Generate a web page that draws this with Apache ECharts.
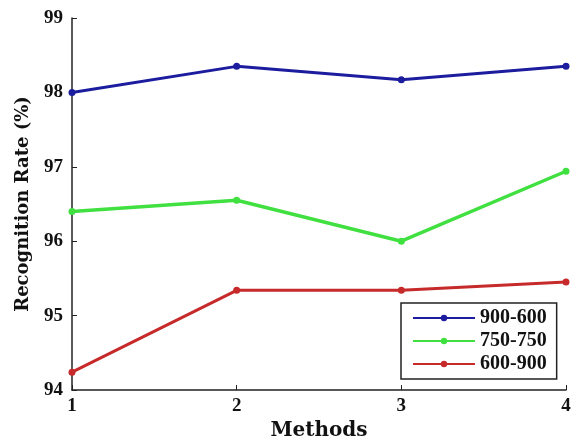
<!DOCTYPE html>
<html>
<head>
<meta charset="utf-8">
<script src="https://cdn.jsdelivr.net/npm/echarts@6/dist/echarts.min.js"></script>
<style>
  html, body { margin: 0; padding: 0; background: #fff; }
  #chart { width: 585px; height: 441px; }
</style>
</head>
<body>
<div id="chart"></div>
<script>
const methods = [1, 2, 3, 4];
const seriesNames = ["900-600", "750-750", "600-900"];
const rate900 = [98.0, 98.35, 98.17, 98.35];
const rate750 = [96.4, 96.55, 96.0, 96.94];
const rate600 = [94.24, 95.34, 95.34, 95.45];
const colors = ["#1c1c9e", "#40e040", "#c62a2a"];

const FONT = "Liberation Serif";
const TITLE_FONT = "DejaVu Serif";

function toPoints(values) {
  return values.map((v, i) => [methods[i], v]);
}

const chart = echarts.init(document.getElementById("chart"));

const axisLine = { show: true, lineStyle: { color: "#222", width: 1.5 } };
const tickLabel = { fontFamily: FONT, fontWeight: "bold", fontSize: 19, color: "#111" };
const titleStyle = { fontFamily: TITLE_FONT, fontWeight: "bold", fontSize: 18, color: "#111" };

const option = {
  animation: false,
  backgroundColor: "#fff",
  textStyle: { fontFamily: FONT },
  grid: { left: 72, right: 19, top: 18, bottom: 51, outerBoundsMode: "none" },
  legend: {
    data: seriesNames,
    orient: "vertical",
    left: 401,
    top: 303,
    padding: [5, 10, 5, 11],
    itemGap: 3,
    itemWidth: 62,
    itemHeight: 8,
    borderColor: "#222",
    borderWidth: 1.5,
    borderRadius: 0,
    backgroundColor: "#fff",
    textStyle: { fontFamily: FONT, fontWeight: "bold", fontSize: 20, color: "#111" },
  },
  xAxis: {
    type: "value",
    min: 1,
    max: 4,
    interval: 1,
    name: "Methods",
    nameLocation: "middle",
    nameGap: 31,
    nameTextStyle: Object.assign({}, titleStyle, { fontSize: 20 }),
    axisLine: axisLine,
    axisTick: { show: true, inside: true, length: 5, lineStyle: { color: "#222" } },
    axisLabel: Object.assign({ margin: 7 }, tickLabel),
    splitLine: { show: false },
  },
  yAxis: {
    type: "value",
    min: 94,
    max: 99,
    interval: 1,
    name: "Recognition Rate (%)",
    nameLocation: "middle",
    nameGap: 40,
    nameTextStyle: titleStyle,
    axisLine: axisLine,
    axisTick: { show: true, inside: true, length: 5, lineStyle: { color: "#222" } },
    axisLabel: Object.assign({ margin: 9 }, tickLabel),
    splitLine: { show: false },
  },
  series: [rate900, rate750, rate600].map((vals, i) => ({
    name: seriesNames[i],
    type: "line",
    data: toPoints(vals),
    symbol: "circle",
    symbolSize: 7,
    lineStyle: { color: colors[i], width: i === 1 ? 3.5 : 3 },
    itemStyle: { color: colors[i] },
  })),
};

chart.setOption(option);
</script>
</body>
</html>
